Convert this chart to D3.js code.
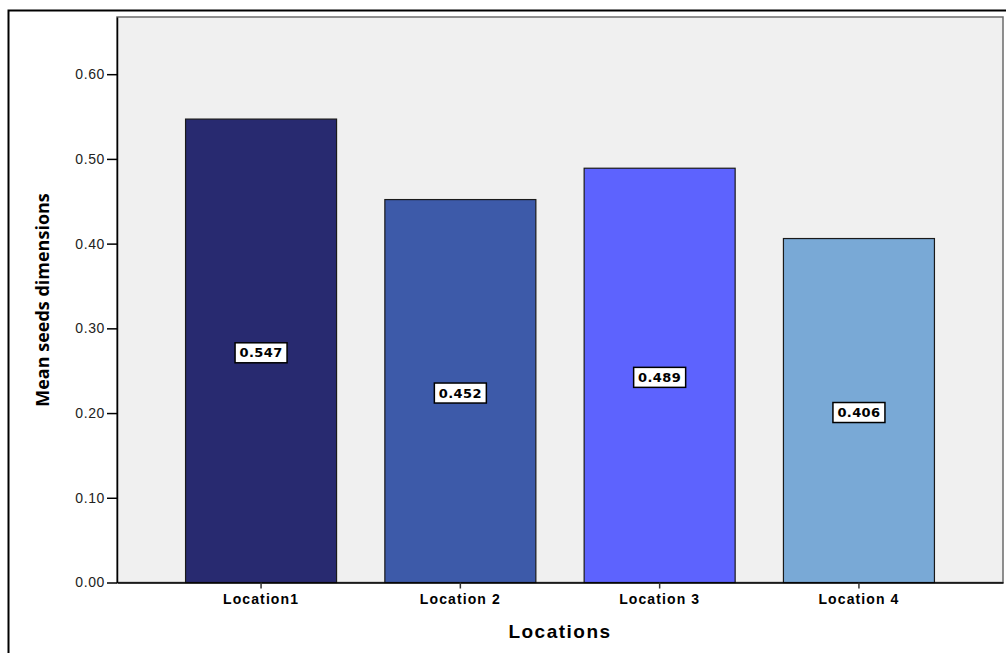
<!DOCTYPE html>
<html>
<head>
<meta charset="utf-8">
<script src="https://cdn.jsdelivr.net/npm/d3@7"></script>
<style>
  html, body { margin: 0; padding: 0; background: #fff; }
  svg { display: block; }
</style>
</head>
<body>
<svg id="chart" width="1006" height="653"></svg>
<script>
// Mean seed dimensions per location
const categories = ["Location1", "Location 2", "Location 3", "Location 4"];
const values = [0.547, 0.452, 0.489, 0.406];
const barColors = ["#282a70", "#3d5aa9", "#5d63fe", "#79a9d6"];
const yTicks = [0, 0.1, 0.2, 0.3, 0.4, 0.5, 0.6];

const svg = d3.select("#chart");
const W = 1006, H = 653;
const plot = { left: 117, top: 17, right: 1003, bottom: 582.5 };

// outer frame (top and left edges)
svg.append("path")
  .attr("d", `M8.5,${H} V10.5 H${W}`)
  .attr("fill", "none").attr("stroke", "#000").attr("stroke-width", 2);

const y = d3.scaleLinear().domain([0, 0.6675]).range([plot.bottom, plot.top]);
const x = d3.scaleBand().domain(categories)
  .range([plot.left, plot.right]).paddingInner(0.2423).paddingOuter(0.344);

// plot background
svg.append("rect")
  .attr("x", plot.left).attr("y", plot.top)
  .attr("width", plot.right - plot.left).attr("height", plot.bottom - plot.top)
  .attr("fill", "#f0f0f0").attr("stroke", "#6b6b6b").attr("stroke-width", 1.5);

// bars
svg.selectAll("rect.bar").data(values).join("rect")
  .attr("class", "bar")
  .attr("x", (d, i) => x(categories[i]))
  .attr("y", d => y(d))
  .attr("width", x.bandwidth())
  .attr("height", d => y(0) - y(d))
  .attr("fill", (d, i) => barColors[i])
  .attr("stroke", "#1a1a1a").attr("stroke-width", 1.2);

// value labels
const lab = svg.selectAll("g.lab").data(values).join("g")
  .attr("class", "lab")
  .attr("transform", (d, i) => `translate(${x(categories[i]) + x.bandwidth() / 2},${y(d / 2) + 2})`);
lab.append("rect")
  .attr("x", -26).attr("y", -10).attr("width", 52).attr("height", 20)
  .attr("fill", "#fff").attr("stroke", "#000").attr("stroke-width", 1.5);
lab.append("text")
  .attr("text-anchor", "middle").attr("dy", "0.36em")
  .attr("font-family", "DejaVu Sans, sans-serif").attr("font-weight", "bold")
  .attr("font-size", 13).attr("letter-spacing", 0.4).attr("fill", "#000")
  .text(d => d3.format(".3f")(d));

// y axis
const yAxis = svg.append("g")
  .attr("transform", `translate(${plot.left},0)`)
  .call(d3.axisLeft(y).tickValues(yTicks).tickFormat(d3.format(".2f"))
    .tickSize(10).tickSizeOuter(0).tickPadding(2));
yAxis.select(".domain").attr("stroke", "#000").attr("stroke-width", 1.5);
yAxis.selectAll(".tick line").attr("stroke", "#000").attr("stroke-width", 1.5);
yAxis.selectAll(".tick text")
  .attr("font-family", "Liberation Sans, Arial, sans-serif")
  .attr("font-size", 14).attr("letter-spacing", 0.6).attr("fill", "#222");

// x axis
const xAxis = svg.append("g")
  .attr("transform", `translate(0,${plot.bottom})`)
  .call(d3.axisBottom(x).tickSize(6).tickSizeOuter(0).tickPadding(6));
xAxis.select(".domain").attr("stroke", "#000").attr("stroke-width", 1.5);
xAxis.selectAll(".tick line").attr("stroke", "#333").attr("stroke-width", 1.5);
xAxis.selectAll(".tick text")
  .attr("font-family", "Liberation Sans, Arial, sans-serif")
  .attr("font-weight", "bold").attr("font-size", 14).attr("letter-spacing", 1.1).attr("fill", "#000");

// axis titles
svg.append("text")
  .attr("x", (plot.left + plot.right) / 2).attr("y", 638)
  .attr("text-anchor", "middle")
  .attr("font-family", "Liberation Sans, Arial, sans-serif")
  .attr("font-weight", "bold").attr("font-size", 19).attr("letter-spacing", 1.5)
  .attr("fill", "#000").text("Locations");

svg.append("text")
  .attr("transform", `translate(49,300) rotate(-90)`)
  .attr("text-anchor", "middle")
  .attr("font-family", "Open Sans, sans-serif")
  .attr("font-weight", "bold").attr("font-size", 18)
  .attr("fill", "#000").text("Mean seeds dimensions");
</script>
</body>
</html>
